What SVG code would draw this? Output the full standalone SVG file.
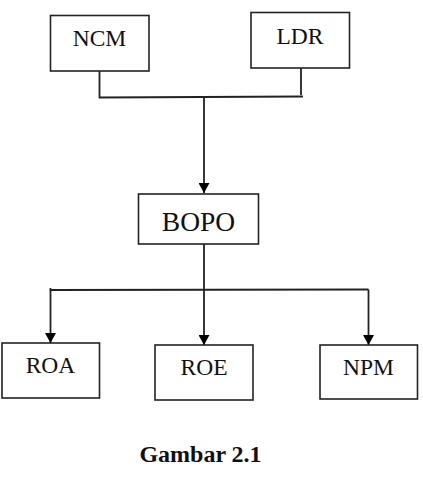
<svg xmlns="http://www.w3.org/2000/svg" width="423" height="499" viewBox="0 0 423 499">
<defs>
<marker id="ah" viewBox="0 0 10 11" refX="10" refY="5.5" markerWidth="11" markerHeight="11" markerUnits="userSpaceOnUse" orient="auto">
<path d="M0,0 L10,5.5 L0,11 Z" fill="#000"/>
</marker>
<style>
.box{fill:#fff;stroke:#222;stroke-width:1.6}
.t{font-family:"Liberation Serif",serif;fill:#111;text-anchor:middle}
.ln{fill:none;stroke:#222;stroke-width:1.8}
</style>
</defs>
<rect width="423" height="499" fill="#fff"/>
<g id="connectors">
<polyline class="ln" points="99.5,71 99.5,97.5 303,96.5"/>
<line class="ln" x1="301" y1="68" x2="301" y2="95"/>
<line class="ln" x1="204" y1="97" x2="204" y2="193" marker-end="url(#ah)"/>
<line class="ln" x1="204" y1="244" x2="204" y2="290"/>
<polyline class="ln" points="50.5,288 50.5,290 368.5,289.5"/>
<line class="ln" x1="50.5" y1="290" x2="50.5" y2="343" marker-end="url(#ah)"/>
<line class="ln" x1="204" y1="290" x2="204" y2="345" marker-end="url(#ah)"/>
<line class="ln" x1="368.5" y1="289.5" x2="368.5" y2="345" marker-end="url(#ah)"/>
</g>
<g id="ncm"><rect class="box" x="50.5" y="15.5" width="98.5" height="55.5"/><text class="t" x="99.5" y="46" font-size="23.5">NCM</text></g>
<g id="ldr"><rect class="box" x="251" y="12.5" width="98.5" height="55.5"/><text class="t" x="300" y="43.5" font-size="23.5">LDR</text></g>
<g id="bopo"><rect class="box" x="138.5" y="194" width="120" height="50"/><text class="t" x="198.5" y="231" font-size="27.5">BOPO</text></g>
<g id="roa"><rect class="box" x="2" y="343" width="97.5" height="55"/><text class="t" x="50.5" y="373" font-size="23.5">ROA</text></g>
<g id="roe"><rect class="box" x="155" y="345" width="98" height="55"/><text class="t" x="204" y="375" font-size="23.5">ROE</text></g>
<g id="npm"><rect class="box" x="320" y="345" width="97.5" height="54"/><text class="t" x="368.5" y="375" font-size="23.5">NPM</text></g>
<text class="t" x="200.5" y="462" font-size="24" font-weight="bold">Gambar 2.1</text>
</svg>
